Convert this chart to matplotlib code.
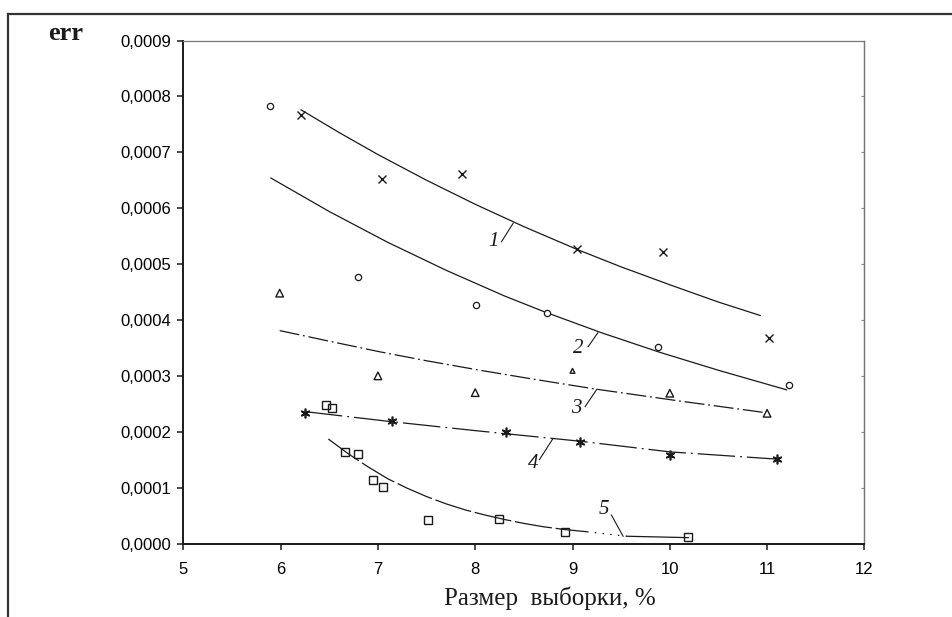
import matplotlib
matplotlib.use("Agg")
import matplotlib.pyplot as plt
from matplotlib.lines import Line2D

# sample size, % / error (units of 1e-4)
x1 = [6.21, 7.04, 7.86, 9.05, 9.93, 11.02]
y1 = [7.66, 6.52, 6.61, 5.27, 5.22, 3.68]
x2 = [5.89, 6.80, 8.01, 8.74, 9.88, 11.23]
y2 = [7.82, 4.77, 4.26, 4.12, 3.52, 2.83]
x3 = [5.99, 7.00, 8.00, 9.00, 10.00, 11.00]
y3 = [4.48, 3.00, 2.70, 3.09, 2.69, 2.33]
s3 = [30, 30, 30, 12, 30, 30]
x4 = [6.25, 7.14, 8.32, 9.08, 10.00, 11.10]
y4 = [2.34, 2.19, 2.00, 1.81, 1.58, 1.51]
x5 = [6.47, 6.53, 6.66, 6.80, 6.95, 7.05, 7.51, 8.24, 8.92, 10.19]
y5 = [2.47, 2.43, 1.63, 1.60, 1.14, 1.02, 0.42, 0.44, 0.20, 0.11]

# trend curves
c1x = [6.21, 6.60, 7.00, 7.50, 8.00, 8.50, 9.05, 9.50, 10.00, 10.50, 10.93]
c1y = [7.76, 7.355, 6.96, 6.50, 6.07, 5.67, 5.26, 4.95, 4.63, 4.32, 4.08]
c2x = [5.90, 6.50, 7.10, 7.70, 8.30, 8.72, 9.30, 9.90, 10.50, 11.20]
c2y = [6.54, 5.94, 5.39, 4.89, 4.43, 4.14, 3.77, 3.42, 3.10, 2.75]
c3x = [5.99, 6.50, 7.02, 7.50, 8.05, 8.60, 9.25, 10.10, 10.99]
c3y = [3.81, 3.62, 3.43, 3.27, 3.10, 2.94, 2.76, 2.55, 2.34]
c4x = [6.25, 7.14, 8.00, 9.08, 10.00, 11.10]
c4y = [2.36, 2.18, 2.02, 1.83, 1.64, 1.51]
c5x = [6.49, 6.70, 6.90, 7.10, 7.30, 7.50, 7.70, 7.90, 8.10, 8.30, 8.50, 8.70, 8.92, 9.15]
c5y = [1.87, 1.60, 1.37, 1.16, 0.99, 0.84, 0.71, 0.60, 0.51, 0.43, 0.36, 0.30, 0.25, 0.21]
c5gapx = [9.15, 9.56]
c5gapy = [0.21, 0.13]
c5endx = [9.56, 10.19]
c5endy = [0.13, 0.105]

# curve labels: text position and leader line
lab_txt = ['1', '2', '3', '4', '5']
lab_x = [8.19, 9.06, 9.04, 8.60, 9.32]
lab_y = [5.40, 3.49, 2.42, 1.44, 0.60]
lead_x = [(8.27, 8.39), (9.16, 9.26), (9.13, 9.25), (8.66, 8.80), (9.40, 9.52)]
lead_y = [(5.40, 5.73), (3.52, 3.77), (2.45, 2.76), (1.50, 1.88), (0.51, 0.13)]

xticks = [5, 6, 7, 8, 9, 10, 11, 12]
yticks = [0, 1, 2, 3, 4, 5, 6, 7, 8, 9]
ylabels = ['0,0000', '0,0001', '0,0002', '0,0003', '0,0004',
           '0,0005', '0,0006', '0,0007', '0,0008', '0,0009']

k = '#1a1a1a'
fig = plt.figure(figsize=(9.53, 6.17), dpi=100)
ax = fig.add_axes([0.1924, 0.1191, 0.7146, 0.8152])

lw = 0.9
ax.plot(c1x, c1y, color=k, lw=lw)
ax.plot(c2x, c2y, color=k, lw=lw)
ax.plot(c3x, c3y, color=k, lw=lw, ls=(0, (16, 3, 1.5, 3)))
ax.plot(c4x, c4y, color=k, lw=lw, ls=(0, (30, 4, 1.5, 4)))
ax.plot(c5x, c5y, color=k, lw=lw, ls=(0, (30, 3)))
ax.plot(c5gapx, c5gapy, color=k, lw=lw, ls=(0, (1.2, 5)))
ax.plot(c5endx, c5endy, color=k, lw=lw)

ax.plot(x1, y1, ls='none', marker='x', ms=6, mew=1.0, color=k)
ax.plot(x2, y2, ls='none', marker='o', ms=4.5, mew=0.9, mfc='white', mec=k)
ax.scatter(x3, y3, s=s3, marker='^', facecolors='white', edgecolors=k, linewidths=1.0, zorder=3)
ax.plot(x4, y4, ls='none', marker=(6, 2, 0), ms=7, mew=1.2, color=k)
ax.plot(x5, y5, ls='none', marker='s', ms=6, mew=1.0, mfc='none', mec=k)

for t, tx, ty, lx, ly in zip(lab_txt, lab_x, lab_y, lead_x, lead_y):
    ax.text(tx, ty, t, fontsize=15, style='italic', family='Liberation Serif',
            ha='center', va='center', color=k)
    ax.plot(lx, ly, color=k, lw=0.8)

ax.set_xlim(5, 12)
ax.set_ylim(0, 9)
ax.set_xticks(xticks)
ax.set_xticklabels([str(v) for v in xticks])
ax.set_yticks(yticks)
ax.set_yticklabels(ylabels)
for lab in ax.get_xticklabels() + ax.get_yticklabels():
    lab.set_family('Liberation Sans')
    lab.set_fontsize(12)
ax.tick_params(axis='x', direction='out', length=4, width=1.1, pad=9, color=k)
ax.tick_params(axis='y', direction='out', length=4, width=1.1, pad=5, color=k)

for s in ['left', 'bottom']:
    ax.spines[s].set_color(k)
    ax.spines[s].set_linewidth(1.4)
for s in ['top', 'right']:
    ax.spines[s].set_color('#777777')
    ax.spines[s].set_linewidth(0.9)

sec = ax.secondary_yaxis('right')
sec.set_yticks(yticks)
sec.tick_params(direction='in', length=2, width=0.8, color='#888888', labelright=False)
sec.spines['right'].set_color('#777777')
sec.spines['right'].set_linewidth(0.9)

ax.set_xlabel('Размер  выборки, %', family='Liberation Serif', fontsize=18, color=k)
ax.xaxis.set_label_coords(0.5376, -0.085)

fig.text(0.05, 0.935, 'err', family='Liberation Serif', weight='bold',
         fontsize=19, ha='left', va='baseline', color=k)

# outer frame of the scanned figure
fig.add_artist(Line2D([0.0084, 1.0], [0.977, 0.977], color='#333333', lw=1.6))
fig.add_artist(Line2D([0.0084, 0.0084], [0.0, 0.977], color='#333333', lw=1.6))

fig.savefig('out.png', dpi=100)
